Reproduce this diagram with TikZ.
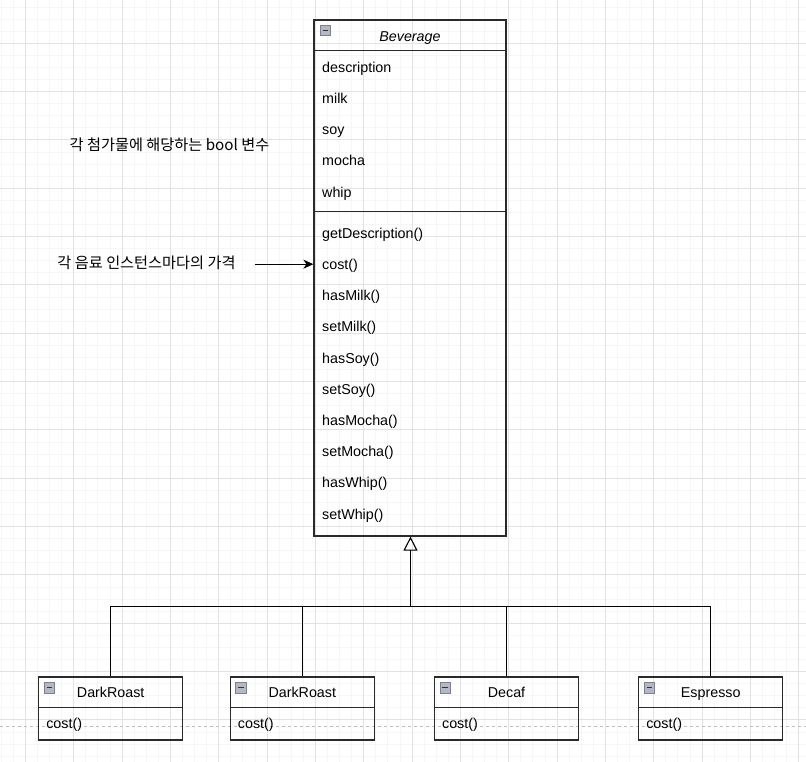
\documentclass[tikz,border=0pt]{standalone}
\usepackage{fontspec}
\setmainfont{Liberation Sans}
\newfontfamily\kr{Noto Sans CJK KR}
\usetikzlibrary{arrows.meta}
\definecolor{gridminor}{HTML}{F6F6F6}
\definecolor{gridmajor}{HTML}{E2E2E2}
\definecolor{boxline}{HTML}{2A2A2A}
\definecolor{pagebreak}{HTML}{C0C0C0}
\definecolor{iconfill}{HTML}{B4B8C4}
\definecolor{iconline}{HTML}{7C8090}
\begin{document}
\begin{tikzpicture}[x=1pt,y=-1pt,
  clsbox/.style={draw=boxline, line width=1.2pt, inner sep=0pt, minimum width=#1},
  mem/.style={anchor=base west, inner sep=0pt, font=\fontsize{14.3}{17}\selectfont},
  ttl/.style={anchor=base, inner sep=0pt, font=\fontsize{14.3}{17}\selectfont},
  note/.style={inner sep=0pt, font=\kr\fontsize{15.2}{18}\selectfont},
  conn/.style={draw=black, line width=1.1pt},
  collapse/.pic={\draw[draw=iconline, fill=iconfill, line width=0.8pt] (0,0) rectangle (10.5,10.5);
                 \draw[line width=1.3pt, black!80] (2.5,5.25) -- (8,5.25);}
]
\useasboundingbox (0,0) rectangle (806,762);
% grid
\begin{scope}
\clip (0,0) rectangle (806,762);
\foreach \i in {-3,...,66} {
  \pgfmathsetmacro\xx{25.5+\i*12.083}
  \draw[gridminor, line width=1pt] (\xx,0) -- (\xx,762);
}
\foreach \i in {-4,...,60} {
  \pgfmathsetmacro\yy{43.3+\i*12.083}
  \draw[gridminor, line width=1pt] (0,\yy) -- (806,\yy);
}
\foreach \i in {-1,...,17} {
  \pgfmathsetmacro\xx{25.5+\i*48.333}
  \draw[gridmajor, line width=1pt] (\xx,0) -- (\xx,762);
}
\foreach \i in {-1,...,15} {
  \pgfmathsetmacro\yy{43.3+\i*48.333}
  \draw[gridmajor, line width=1pt] (0,\yy) -- (806,\yy);
}
\draw[pagebreak, line width=0.8pt, dash pattern=on 3pt off 3pt] (0,726) -- (806,726);
\end{scope}

% Beverage class
\node[clsbox=192, minimum height=516] (bev) at (410,278) {};
\draw[boxline, line width=1.2pt] (bev.north west) ++(0,31.4) -- ++(192,0);
\draw[boxline, line width=1.2pt] (bev.north west) ++(0,192.3) -- ++(192,0);
\pic at (320,25) {collapse};
\node[ttl, font=\itshape\fontsize{14.3}{17}\selectfont] (bevt) at (410,41.3) {Beverage};
\foreach \t [count=\i from 0] in {description,milk,soy,mocha,whip}
  \node[mem] (a\i) at (322,{67+31.2*\i+5.3}) {\t};
\foreach \t [count=\i from 0] in {getDescription(),cost(),hasMilk(),setMilk(),hasSoy(),setSoy(),hasMocha(),setMocha(),hasWhip(),setWhip()}
  \node[mem] (m\i) at (322,{233+31.2*\i+5.3}) {\t};

% notes
\node[note] (n1) at (169.5,145) {각 첨가물에 해당하는 bool 변수};
\node[note] (n2) at (146.5,263) {각 음료 인스턴스마다의 가격};
\coordinate (cs) at (255,264.2);
\draw[conn, line width=1pt, -{Stealth[length=10pt,width=9pt,inset=3pt]}] (cs) -- (cs -| bev.west);

% subclasses
\node[clsbox=144, minimum height=63] (dr1) at (110.7,708.5) {};
\node[clsbox=144, minimum height=63] (dr2) at (302.3,708.5) {};
\node[clsbox=144, minimum height=63] (dec) at (506.5,708.5) {};
\node[clsbox=144, minimum height=63] (esp) at (710.7,708.5) {};
\foreach \n/\t in {dr1/DarkRoast,dr2/DarkRoast,dec/Decaf,esp/Espresso} {
  \draw[boxline, line width=1.2pt] (\n.north west) ++(0,31.4) -- ++(144,0);
  \pic at ([shift={(6,6)}]\n.north west) {collapse};
  \node[ttl] (\n t) at ([shift={(0,21.5)}]\n.north) {\t};
  \node[mem] (\n c) at ([shift={(8,52.3)}]\n.north west) {cost()};
}

% inheritance
\coordinate (j) at (410.5,606.3);
\foreach \n in {dr1,dr2,dec,esp}
  \draw[conn] (\n.north) |- (j);
\draw[conn, -{Triangle[open,length=14pt,width=14pt]}] (j) -- (j |- bev.south);
\end{tikzpicture}
\end{document}
